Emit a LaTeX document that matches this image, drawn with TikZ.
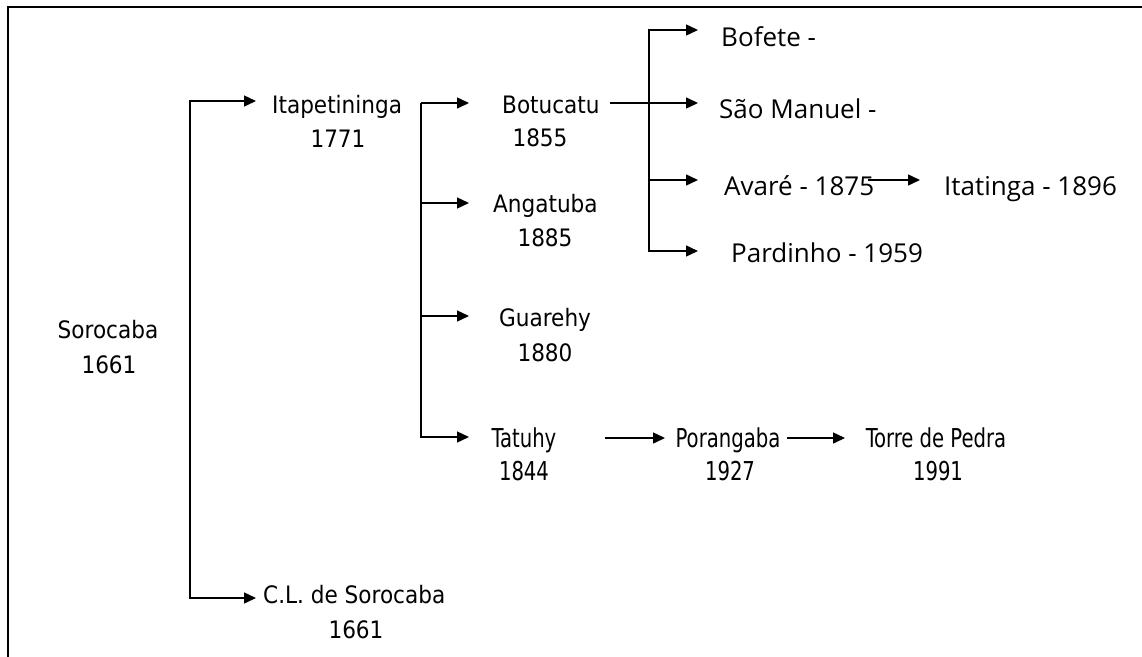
\documentclass[tikz,border=0pt]{standalone}
\usepackage{fontspec}
\usetikzlibrary{arrows.meta,calc}
\newfontfamily\tahfont{DejaVu Sans Condensed}
\newfontfamily\narrowfont[FakeStretch=0.84]{DejaVu Sans Condensed}
\newfontfamily\segfont{Open Sans}
\begin{document}
\begin{tikzpicture}[x=1pt,y=-1pt,
  tx/.style={inner sep=0pt, anchor=base west, font=\tahfont\fontsize{24}{28}\selectfont},
  ty/.style={inner sep=0pt, anchor=base, font=\tahfont\fontsize{24}{28}\selectfont},
  tn/.style={inner sep=0pt, anchor=base, font=\narrowfont\fontsize{26}{28}\selectfont},
  ts/.style={inner sep=0pt, anchor=base west, font=\segfont\fontsize{26}{28}\selectfont},
  arr/.style={line width=1.4pt, -{Triangle[length=12pt,width=11pt]}},
  frame/.style={line width=2pt}]
\useasboundingbox (0,0) rectangle (1142,656);
\draw[frame] (8,662) -- (8,7) -- (1148,7);
% texts
\node[ty] (soro) at (108,338) {Sorocaba};
\node[ty] (soroy) at (109,373) {1661};
\node[tx] (ita) at (272,113) {Itapetininga};
\node[ty] (itay) at (338,147) {1771};
\node[tx] (cl) at (263,603) {C.L. de Sorocaba};
\node[ty] (cly) at (356,638) {1661};
\node[tx] (bot) at (502,113) {Botucatu};
\node[ty] (boty) at (540,146) {1855};
\node[tx] (ang) at (493,212) {Angatuba};
\node[ty] (angy) at (545,246) {1885};
\node[tx] (gua) at (499,326) {Guarehy};
\node[ty] (guay) at (545,361) {1880};
\node[tn] (tat) at (524,447) {Tatuhy};
\node[tn] (taty) at (524,480) {1844};
\node[tn] (por) at (728,447) {Porangaba};
\node[tn] (pory) at (730,480) {1927};
\node[tn] (tor) at (936,447) {Torre de Pedra};
\node[tn] (tory) at (938,480) {1991};
\node[ts] (bof) at (721,46) {Bofete -};
\node[ts] (sao) at (719,118) {São Manuel -};
\node[ts] (ava) at (724,195) {Avaré - 1875};
\node[ts] (par) at (731,262) {Pardinho - 1959};
\node[ts] (itt) at (944,195) {Itatinga - 1896};
% junctions
\coordinate (j1) at (190,350);
\coordinate (j2) at (421,103);
\coordinate (j3) at (649,103);
% connectors
\draw[arr] (j1) |- ($(ita.base west)+(-16,-12)$);
\draw[arr] (j1) |- ($(cl.base west)+(-7,-5)$);
\draw[arr] (j2) -- ($(bot.base west)+(-33,-10)$);
\draw[arr] (j2) |- ($(ang.base west)+(-24,-9)$);
\draw[arr] (j2) |- ($(gua.base west)+(-30,-10)$);
\draw[arr] (j2) |- ($(tat.base)+(-55,-10)$);
\draw[arr] ($(bot.base west)+(108,-10)$) -- ($(sao.base west)+(-21,-15)$);
\draw[arr] (j3) |- ($(bof.base west)+(-23,-16)$);
\draw[arr] (j3) |- ($(ava.base west)+(-26,-15)$);
\draw[arr] (j3) |- ($(par.base west)+(-33,-11)$);
\draw[arr] ($(ava.base east)+(-6,-15)$) -- ($(itt.base west)+(-24,-15)$);
\draw[arr] ($(por.base)+(-123,-9)$) -- ($(por.base)+(-63,-9)$);
\draw[arr] ($(tor.base)+(-149,-9)$) -- ($(tor.base)+(-91,-9)$);
\end{tikzpicture}
\end{document}
